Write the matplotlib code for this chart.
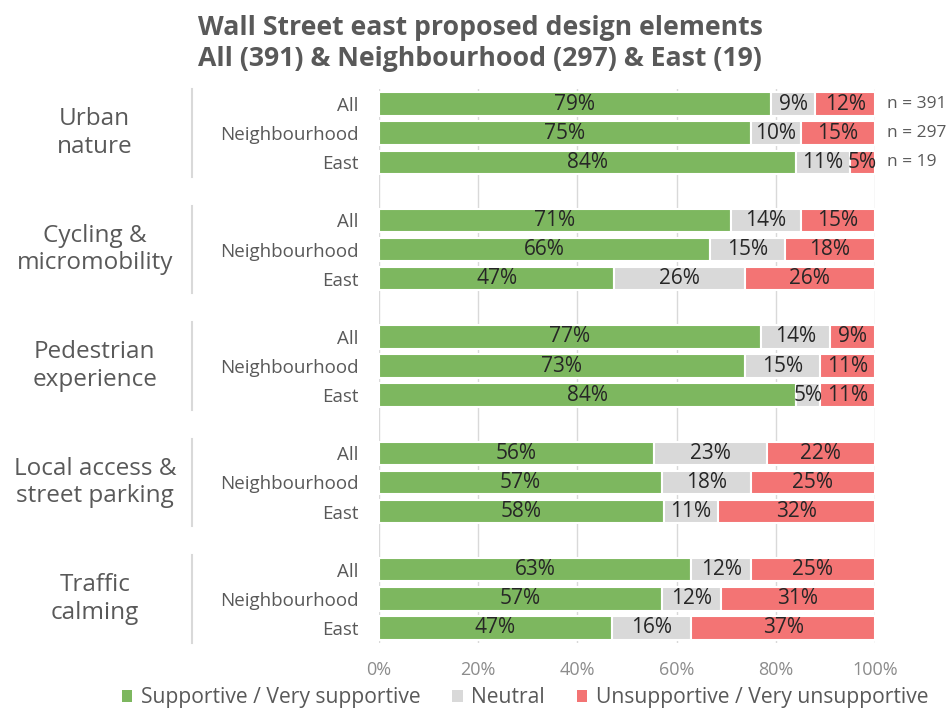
import matplotlib
matplotlib.use("Agg")
import matplotlib.pyplot as plt
from matplotlib.patches import Patch
import numpy as np

plt.rcParams['font.family'] = ['Open Sans', 'DejaVu Sans']

groups = ["Urban\nnature", "Cycling &\nmicromobility", "Pedestrian\nexperience",
          "Local access &\nstreet parking", "Traffic\ncalming"]
segments = ["All", "Neighbourhood", "East"]
n_labels = ["n = 391", "n = 297", "n = 19"]

supportive = [79, 75, 84, 71, 66, 47, 77, 73, 84, 56, 57, 58, 63, 57, 47]
neutral = [9, 10, 11, 14, 15, 26, 14, 15, 5, 23, 18, 11, 12, 12, 16]
unsupportive = [12, 15, 5, 15, 18, 26, 9, 11, 11, 22, 25, 32, 25, 31, 37]

series_names = ["Supportive / Very supportive", "Neutral", "Unsupportive / Very unsupportive"]
colors = ["#7db75f", "#d9d9d9", "#f37474"]

fig = plt.figure(figsize=(9.51, 7.10), dpi=100)
ax = fig.add_axes([0.3985, 0.095, 0.5215, 0.779])

vals = np.array([supportive, neutral, unsupportive], dtype=float)
totals = vals.sum(axis=0)
norm = vals / totals * 100

ypos = []
for g in range(len(groups)):
    for s in range(len(segments)):
        ypos.append(g * 4 + s)
ypos = np.array(ypos)

left = np.zeros(len(ypos))
for k in range(3):
    ax.barh(ypos, norm[k], left=left, height=0.8, color=colors[k],
            edgecolor="white", linewidth=1.5, zorder=3)
    for i, y in enumerate(ypos):
        ax.text(left[i] + norm[k][i] / 2, y, f"{int(vals[k][i])}%",
                ha="center", va="center", fontsize=15, color="#262626", zorder=4)
    left += norm[k]

ax.set_xlim(0, 100)
ax.set_ylim(18.5, -0.5)
ax.set_xticks([0, 20, 40, 60, 80, 100])
ax.set_xticklabels(["0%", "20%", "40%", "60%", "80%", "100%"], fontsize=13, color="#8c8c8c")
ax.set_yticks(ypos)
ax.set_yticklabels(segments * len(groups), fontsize=13.5, color="#595959")
ax.tick_params(axis="both", length=0)
ax.tick_params(axis="y", pad=15)
ax.tick_params(axis="x", pad=13)
ax.grid(axis="x", color="#d9d9d9", linewidth=1, zorder=0)
for sp in ax.spines.values():
    sp.set_visible(False)

# n labels for first group
for i in range(3):
    ax.text(102.5, ypos[i], n_labels[i], ha="left", va="center",
            fontsize=12.5, color="#595959", clip_on=False)

# group labels and separators
trans = matplotlib.transforms.blended_transform_factory(ax.transAxes, ax.transData)
for g, name in enumerate(groups):
    yc = g * 4 + 1
    ax.text(-0.573, yc, name, transform=trans, ha="center", va="center",
            fontsize=17.5, color="#595959", linespacing=1.2)
    ax.plot([-0.377, -0.377], [g * 4 - 0.5, g * 4 + 2.5], transform=trans,
            color="#d9d9d9", linewidth=1.5, clip_on=False)

fig.text(0.505, 0.961, "Wall Street east proposed design elements",
         ha="center", va="center", fontsize=19.2, fontweight="bold", color="#595959")
fig.text(0.505, 0.917, "All (391) & Neighbourhood (297) & East (19)",
         ha="center", va="center", fontsize=19.2, fontweight="bold", color="#595959")

handles = [Patch(facecolor=c, edgecolor="none") for c in colors]
fig.legend(handles, series_names, loc="center", bbox_to_anchor=(0.552, 0.017),
           ncol=3, frameon=False, fontsize=15.2, labelcolor="#595959",
           handlelength=0.5, handleheight=0.5, handletextpad=0.4, columnspacing=1.5)

fig.savefig("out.png", dpi=100, facecolor="white")
